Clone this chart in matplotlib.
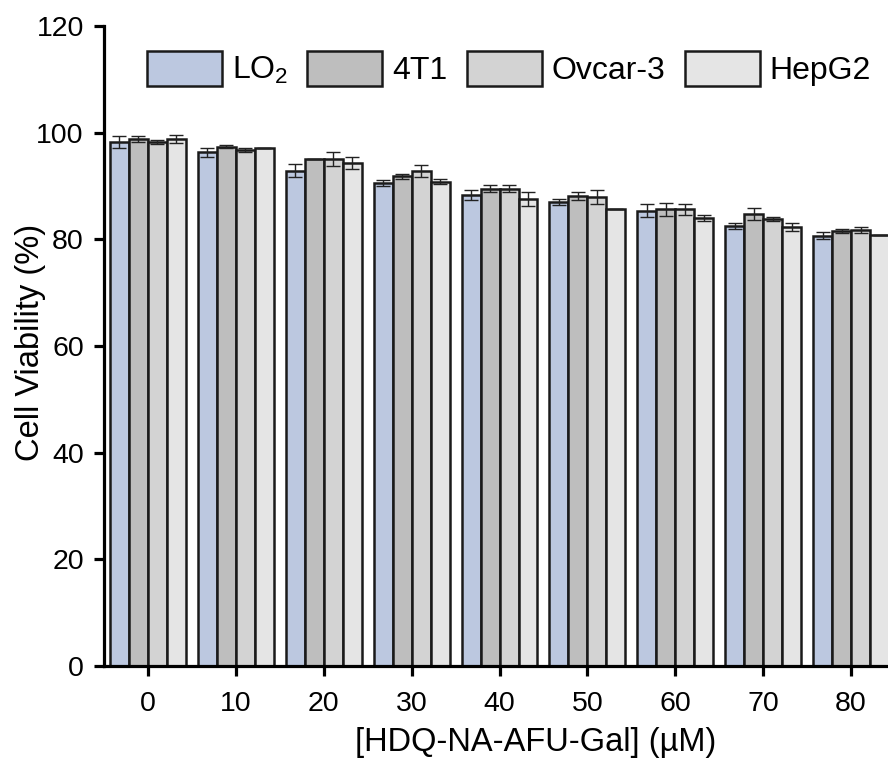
#Cell viability of four cell lines vs HDQ-NA-AFU-Gal concentration
#coding: utf-8

import numpy as np
import matplotlib
matplotlib.use("Agg")
import matplotlib.pyplot as plt

plt.rcParams["font.family"]=["Liberation Sans","DejaVu Sans"]
plt.rcParams["mathtext.default"]="regular"

conc=["0","10","20","30","40","50","60","70","80"]
cells=["LO$_2$","4T1","Ovcar-3","HepG2"]

lo2=[98.2,96.3,92.9,90.6,88.3,87.0,85.4,82.5,80.7]
t41=[98.8,97.4,95.1,91.8,89.5,88.1,85.6,84.7,81.6]
ovcar=[98.3,96.7,95.1,92.8,89.5,88.0,85.6,83.8,81.7]
hepg2=[98.8,97.2,94.3,90.8,87.6,85.6,84.0,82.3,80.9]

lo2_err=[1.1,0.8,1.2,0.6,1.0,0.6,1.2,0.5,0.6]
t41_err=[0.6,0.2,0.0,0.5,0.6,0.7,1.3,1.1,0.4]
ovcar_err=[0.4,0.4,1.3,1.2,0.7,1.3,1.1,0.4,0.6]
hepg2_err=[0.7,0.0,1.1,0.5,1.3,0.0,0.5,0.8,0.0]

colors=["#bcc8e0","#bebebe","#d3d3d3","#e5e5e5"]

fig=plt.figure(figsize=(8.88,7.6),dpi=100)
ax=fig.add_axes([104/888,94/760,1-104/888,(666-26)/760])

x=np.arange(len(conc))
w=0.216
series=[lo2,t41,ovcar,hepg2]
errs=[lo2_err,t41_err,ovcar_err,hepg2_err]
for i in range(4):
    pos=x+(i-1.5)*w
    ax.bar(pos,series[i],w,color=colors[i],edgecolor="#1a1a1a",linewidth=1.8,label=cells[i],zorder=2)
    ax.errorbar(pos,series[i],yerr=errs[i],fmt="none",ecolor="#222222",elinewidth=1.0,capsize=5,capthick=1.0,zorder=3)

ax.set_xlim(-0.5,8.42)
ax.set_ylim(0,120)
ax.set_yticks([0,20,40,60,80,100,120])
ax.set_xticks(x)
ax.set_xticklabels(conc)
ax.spines["top"].set_visible(False)
ax.spines["right"].set_visible(False)
ax.spines["left"].set_linewidth(2.3)
ax.spines["bottom"].set_linewidth(2.3)
ax.tick_params(axis="both",direction="out",length=7.5,width=2.3,labelsize=20.5)
ax.tick_params(axis="y",pad=7)
ax.tick_params(axis="x",pad=10.5)
ax.set_xlabel("[HDQ-NA-AFU-Gal] (µM)",fontsize=23.5)
ax.set_ylabel("Cell Viability (%)",fontsize=23.5)
ax.xaxis.set_label_coords(0.551,-0.095)
ax.yaxis.set_label_coords(-0.074,0.505)

ax.legend(loc="upper left",bbox_to_anchor=(0.026,0.996),ncol=4,frameon=False,fontsize=23,
          handlelength=2.35,handleheight=1.33,handletextpad=0.31,columnspacing=0.6,borderaxespad=0.3)

plt.savefig("out.png",dpi=100)
